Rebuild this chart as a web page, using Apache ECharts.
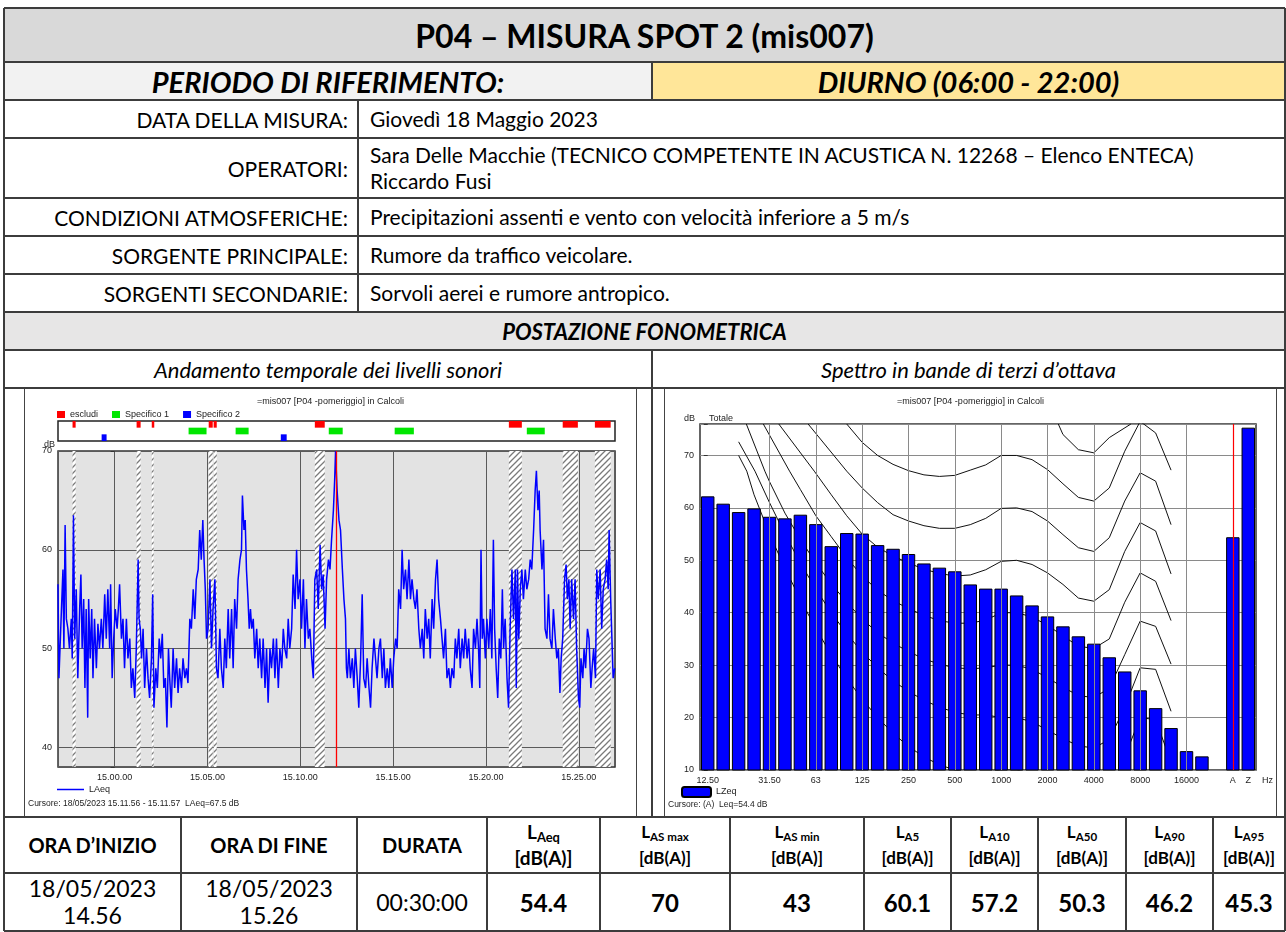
<!DOCTYPE html>
<html>
<head>
<meta charset="utf-8">
<title>P04 – MISURA SPOT 2 (mis007)</title>
<script src="https://cdn.jsdelivr.net/npm/echarts@6/dist/echarts.min.js"></script>
<style>
html,body{margin:0;padding:0;background:#fff;}
#page{position:relative;width:1286px;height:932px;overflow:hidden;font-family:Lato,'Open Sans',sans-serif;color:#000;}
#page div{box-sizing:border-box;}
.sub{font-size:0.68em;position:relative;top:0.22em;}
</style>
</head>
<body>
<div id="page"></div>
<script>
// ================= DATA =================
const reportTitle = 'P04 – MISURA SPOT 2 (mis007)';
const periodLabel = 'PERIODO DI RIFERIMENTO:';
const periodValue = 'DIURNO (06:00 - 22:00)';
const infoLabels = ['DATA DELLA MISURA:', 'OPERATORI:', 'CONDIZIONI ATMOSFERICHE:', 'SORGENTE PRINCIPALE:', 'SORGENTI SECONDARIE:'];
const infoValues = ['Giovedì 18 Maggio 2023',
  'Sara Delle Macchie (TECNICO COMPETENTE IN ACUSTICA N. 12268 – Elenco ENTECA)<br>Riccardo Fusi',
  'Precipitazioni assenti e vento con velocità inferiore a 5 m/s',
  'Rumore da traffico veicolare.',
  'Sorvoli aerei e rumore antropico.'];
const sectionTitle = 'POSTAZIONE FONOMETRICA';
const chartCaptions = ['Andamento temporale dei livelli sonori', 'Spettro in bande di terzi d’ottava'];
const statHeaders = ['ORA D’INIZIO', 'ORA DI FINE', 'DURATA',
  'L<span class="sub">Aeq</span><br>[dB(A)]', 'L<span class="sub">AS max</span><br>[dB(A)]', 'L<span class="sub">AS min</span><br>[dB(A)]',
  'L<span class="sub">A5</span><br>[dB(A)]', 'L<span class="sub">A10</span><br>[dB(A)]', 'L<span class="sub">A50</span><br>[dB(A)]',
  'L<span class="sub">A90</span><br>[dB(A)]', 'L<span class="sub">A95</span><br>[dB(A)]'];
const statValues = ['18/05/2023<br>14.56', '18/05/2023<br>15.26', '00:30:00', '54.4', '70', '43', '60.1', '57.2', '50.3', '46.2', '45.3'];

// Time history: [seconds from 15:00:00, LAeq dB]
const laeqPoints = [[-183,56.5],[-180,47],[-173,53],[-167,58],[-164,50],[-160,62.5],[-156,53],[-151,52],[-146,50],[-140,53],[-137,49],[-133,63.5],[-129,51],[-124,56],[-119,47],[-113,54],[-109,57.5],[-105,50],[-100,55],[-96,46],[-92,54],[-87,43],[-84,55],[-79,49],[-74,54],[-70,47],[-65,53],[-59,48],[-54,52.5],[-49,50],[-43,53],[-38,50],[-32,55.5],[-27,51],[-22,56],[-16,50],[-13,56.5],[-8,47],[-3,51],[2,54],[8,52],[12,54],[16,56.5],[22,51],[27,53],[32,48],[38,53],[43,49],[49,51],[54,46],[59,48],[65,45],[70,50],[76,59],[79,53],[83,52],[87,49],[92,52],[97,46],[103,50],[108,47],[113,45],[119,49],[123,55.5],[127,44],[133,48],[138,46],[144,51],[149,49],[154,51.5],[159,46],[164,47],[169,42],[174,50],[178,47],[183,44],[189,50],[194,46],[200,49],[205,45.5],[210,48],[216,46],[221,49],[227,47],[232,48],[237,46.5],[243,53],[248,52],[254,56],[259,53],[264,57],[270,58],[275,62],[280,59],[285,63],[289,59],[293,56],[297,51],[302,52],[308,57],[313,50],[318,54],[324,57],[329,48],[334,47],[340,52],[345,48],[351,46],[356,51],[361,48],[367,54],[372,49],[378,54],[383,48],[388,55],[394,52],[399,57],[405,59],[410,60],[413,65.5],[418,62],[422,63],[426,58],[431,55],[435,52],[439,54],[443,52],[448,53],[453,49],[459,52],[464,48],[469,51],[475,47],[480,51],[486,46],[491,50],[496,44.5],[502,50],[507,48],[513,51],[518,47],[523,51],[529,46],[534,50],[540,48],[545,52],[550,50],[556,49],[561,53],[566,50],[572,52],[577,57.5],[583,54],[588,60],[593,55],[599,57],[604,52],[610,57],[615,50],[620,55],[626,51],[631,52],[637,49],[642,47],[647,57],[653,58],[658,54],[664,60.5],[669,56],[674,57.5],[680,52],[685,57],[691,59],[696,58],[701,61],[707,64],[711,67],[714,70],[717,67.5],[719,66],[725,63],[730,62],[736,58],[741,55],[746,53],[749,48],[752,47],[757,50],[762,47],[768,49],[773,46],[778,50],[784,47],[789,44],[795,49],[800,55.5],[805,47],[811,46],[816,49],[822,46],[827,44],[832,48],[838,51],[843,49],[848,47],[854,50],[859,51],[865,47],[870,50],[875,46],[881,48],[886,46],[891,49],[897,46],[902,49],[908,51],[913,50],[918,56],[924,54],[929,60],[934,56],[940,58],[945,55],[951,59],[956,55],[961,57],[967,55],[972,54],[977,56],[983,52],[988,50],[994,52],[999,49],[1004,54],[1010,51],[1015,53],[1020,49],[1026,55],[1031,52],[1037,57],[1042,59],[1047,55],[1053,53],[1058,51],[1063,49],[1069,52],[1074,47],[1080,48],[1085,46],[1090,48],[1096,47],[1101,51],[1106,49],[1112,52],[1117,48],[1123,51],[1128,49],[1133,52],[1139,49],[1144,51],[1149,48],[1155,46],[1160,52],[1166,50],[1171,53],[1176,50],[1180,46],[1184,60],[1188,51],[1192,53],[1198,49],[1203,53],[1209,50],[1214,54],[1219,49],[1224,61],[1228,52],[1233,48],[1238,45],[1243,51],[1248,49],[1253,56],[1257,50],[1262,53],[1268,47],[1273,44],[1278,52],[1284,58],[1289,53],[1295,58],[1298,46],[1302,58],[1306,51],[1311,56],[1316,58],[1321,55],[1327,58],[1332,56],[1338,57],[1343,59],[1348,58],[1354,62],[1359,66],[1363,68],[1368,64],[1372,66],[1375,62],[1381,58],[1386,61],[1391,52],[1397,51],[1402,55.5],[1407,51],[1413,50],[1418,54],[1424,51],[1429,49],[1434,50],[1439,45.5],[1443,49],[1448,51],[1454,57],[1459,58.5],[1463,55],[1468,57],[1472,52],[1477,57],[1483,53],[1488,57],[1493,50],[1499,45],[1503,44],[1507,49],[1513,47],[1517,50],[1522,48],[1528,52],[1533,51],[1539,46],[1543,48],[1548,50],[1554,47],[1558,58],[1563,55],[1569,58],[1574,52],[1579,56],[1585,57],[1590,59],[1595,56],[1598,62],[1603,55],[1607,51],[1611,47],[1616,48]];
const timeStart = -183, timeEnd = 1617;     // seconds from 15:00:00
const cursorTime = 717;                     // 15.11.57
const escludiIntervals = [[-136,-126],[71,84],[120,126],[304,317],[320,330],[647,679],[1274,1316],[1448,1497],[1552,1603]];
const specifico1Intervals = [[239,297],[391,433],[692,737],[905,967],[1332,1390]];
const specifico2Intervals = [[-42,-26],[537,556]];

// Spectrum (1/3 octave)
const bandLabels = ['12.50','16','20','25','31.50','40','50','63','80','100','125','160','200','250','315','400','500','630','800','1000','1250','1600','2000','2500','3150','4000','5000','6300','8000','10000','12500','16000','20000'];
const lzeqBands = [62.2,60.8,59.2,59.9,58.3,58.0,58.7,56.9,52.7,55.2,55.1,52.9,52.2,51.2,49.4,48.6,47.9,45.4,44.6,44.6,43.3,41.4,39.3,37.4,35.5,34.1,31.5,28.8,25.2,21.8,18.0,13.6,12.6];
const totalLabels = ['A','Z'];
const totalValues = [54.4, 75.3];
const shownLabelIdx = [0,4,7,10,13,16,19,22,25,28,31,34,35];
// Reference curves: [band position, dB]
const curve80 = [[22.7,76],[23,74],[24,71.1],[25,70.5],[26,73.4],[27.4,76]];
const curve70 = [[9,76],[10,72.5],[11,70],[12,68.3],[13,67.1],[14,66.3],[15,66],[16,66.2],[17,67.2],[18,68.2],[19,70],[20,70],[21,69.2],[22,67.3],[23,64.6],[24,62],[25,61.3],[26,63.8],[27,70.8],[28,76.5],[29,74.3],[30,67.2]];
const curve60 = [[6.5,76],[9,67],[10,63.8],[11,61],[12,58.7],[13,57.5],[14,56.6],[15,56.1],[16,56.1],[17,56.8],[18,58],[19,59.9],[20,60],[21,59.3],[22,57.5],[23,54.9],[24,52.4],[25,51.7],[26,54.3],[27,61.3],[28,66.7],[29,65.1],[30,56.8]];
const curve50 = [[4.6,76],[6.9,67],[8,62.5],[9,58.5],[10,55],[11,52.5],[12,50.8],[13,49.5],[14,48.3],[15,47.5],[16,47],[17,47.2],[18,48.2],[19,49.8],[20,50],[21,49.2],[22,47.6],[23,45.4],[24,42.8],[25,42.2],[26,44.4],[27,51.7],[28,57.2],[29,55.6],[30,47.4]];
const curve40 = [[3.6,76],[5.3,67],[6,63.5],[7,58.5],[8,54.5],[9,50.5],[10,47],[11,44.3],[12,42.3],[13,40.8],[14,39.5],[15,38.5],[16,38],[17,38],[18,38.6],[19,40],[20,40],[21,39.2],[22,37.6],[23,35.6],[24,33.6],[25,33.2],[26,35],[27,42],[28,47.6],[29,46],[30,38.5]];
const curve30 = [[2.5,76],[3.7,67],[4,65],[5,59],[6,54],[7,49.5],[8,45.5],[9,42],[10,38.8],[11,36.2],[12,34.2],[13,32.6],[14,31.2],[15,30.2],[16,29.5],[17,29.3],[18,29.5],[19,30],[20,30],[21,29.2],[22,27.6],[23,25.8],[24,24.2],[25,23.8],[26,25.6],[27,32],[28,38.4],[29,37.4],[30,30.2]];
const curve20 = [[2,72.6],[3.06,67],[4,61],[5,55],[6,49.5],[7,44.5],[8,40],[9,36],[10,32.5],[11,29.5],[12,27],[13,25],[14,23.3],[15,22],[16,21],[17,20.5],[18,20.5],[19,20],[20,20],[21,19.2],[22,17.6],[23,16],[24,14.6],[25,14.2],[26,15.8],[27,22],[28,29.5],[29,29.2],[30,21.2]];
const curve10 = [[2,70],[2.53,67],[3,62.5],[4,55],[5,48.5],[6,42.5],[7,37],[8,32],[9,27.5],[10,23.5],[11,20],[12,17],[13,14.5],[14,12.5],[15,11],[16,10],[17,9.5],[18,9.6],[19,10],[20,10],[21,9.3],[22,7.6],[23,6],[24,4.6],[25,4.3],[26,6],[27,12.5],[28,20],[29,19.6],[30,11.5]];

// ================= LAYOUT (table) =================
const page = document.getElementById('page');
const LINE = '#3c3c3c';
function add(css, html){ const d = document.createElement('div'); d.style.cssText = 'position:absolute;' + css; if (html !== undefined) d.innerHTML = html; page.appendChild(d); return d; }
function rect(x,y,w,h,bg){ return add(`left:${x}px;top:${y}px;width:${w}px;height:${h}px;background:${bg};`); }
function txt(x,y,w,h,html,css,justify){
  const ta = justify === 'flex-end' ? 'right' : (justify === 'flex-start' ? 'left' : 'center');
  return add(`left:${x}px;top:${y}px;width:${w}px;height:${h}px;display:flex;align-items:center;justify-content:${justify || 'center'};`,
    `<div style="text-align:${ta};white-space:nowrap;${css}">${html}</div>`);
}
function hl(x1,x2,y,t){ rect(x1, y - t/2, x2 - x1, t, LINE); }
function vl(x,y1,y2,t){ rect(x - t/2, y1, t, y2 - y1, LINE); }

const X0 = 4, X1 = 1285, XL = 358, XM = 652;
const Y = [8, 62, 100, 138, 198, 236, 274, 312, 350, 388, 817, 873, 931];
const statCols = [4, 181, 357, 487, 600, 730, 864, 951, 1038, 1126, 1213, 1285];

// backgrounds
rect(X0, Y[0], X1 - X0, Y[1] - Y[0], '#d9d9d9');
rect(X0, Y[1], XM - X0, Y[2] - Y[1], '#f2f2f2');
rect(XM, Y[1], X1 - XM, Y[2] - Y[1], '#ffe699');
rect(X0, Y[7], X1 - X0, Y[8] - Y[7], '#e7e6e6');

// chart containers
const cL = add('left:24px;top:388px;width:613px;height:429px;border:1px solid #444;background:#fff;');
const cR = add('left:664px;top:388px;width:613px;height:429px;border:1px solid #444;background:#fff;');

// lines
Y.forEach((y, i) => hl(X0, X1, y, (i === 0 || i === Y.length - 1) ? 2 : 1.5));
vl(X0, Y[0], Y[12], 2); vl(X1, Y[0], Y[12], 2);
vl(XM, Y[1], Y[2], 1.5);
vl(XL, Y[2], Y[7], 1.5);
vl(XM, Y[8], Y[10], 1.5);
statCols.slice(1, -1).forEach(x => vl(x, Y[10], Y[12], 1.5));

// texts
txt(X0, Y[0], X1 - X0, Y[1] - Y[0], reportTitle, 'font-weight:700;font-size:32px;');
txt(X0, Y[1], XM - X0, Y[2] - Y[1], periodLabel, 'font-weight:700;font-style:italic;font-size:29px;');
txt(XM, Y[1], X1 - XM, Y[2] - Y[1], periodValue, 'font-weight:700;font-style:italic;font-size:29px;');
infoLabels.forEach((s, i) => {
  txt(X0, Y[2 + i], XL - X0 - 10, Y[3 + i] - Y[2 + i], s, 'font-size:21px;', 'flex-end');
  txt(XL + 12, Y[2 + i], X1 - XL - 14, Y[3 + i] - Y[2 + i], infoValues[i], 'font-size:21px;line-height:26px;', 'flex-start');
});
txt(X0, Y[7], X1 - X0, Y[8] - Y[7], sectionTitle, 'font-weight:700;font-style:italic;font-size:22px;');
txt(X0, Y[8], XM - X0, Y[9] - Y[8], chartCaptions[0], 'font-style:italic;font-size:22px;');
txt(XM, Y[8], X1 - XM, Y[9] - Y[8], chartCaptions[1], 'font-style:italic;font-size:22px;');
statHeaders.forEach((s, i) => {
  const fs = i < 3 ? 20 : (i === 3 ? 19 : 17);
  txt(statCols[i], Y[10], statCols[i + 1] - statCols[i], Y[11] - Y[10], s,
    `font-weight:700;font-size:${fs}px;line-height:${i < 3 ? 24 : 24}px;`);
  const bold = i >= 3;
  txt(statCols[i], Y[11], statCols[i + 1] - statCols[i], Y[12] - Y[11], statValues[i],
    `font-weight:${bold ? 700 : 400};font-size:${bold ? 24 : 23}px;line-height:27px;`);
});

// ================= CHARTS =================
const chartFont = "'Liberation Sans', Arial, sans-serif";
const pad2 = n => String(n).padStart(2, '0');
function tFmt(v){ const s = 54000 + v; return Math.floor(s/3600) + '.' + pad2(Math.floor(s % 3600 / 60)) + '.' + pad2(s % 60); }
function hatchPattern(){
  const c = document.createElement('canvas'); c.width = 6; c.height = 6;
  const g = c.getContext('2d'); g.fillStyle = '#ffffff'; g.fillRect(0, 0, 6, 6);
  g.strokeStyle = '#7a7a7a'; g.lineWidth = 1.3; g.beginPath();
  g.moveTo(-1, 7); g.lineTo(7, -1); g.moveTo(-1, 1); g.lineTo(1, -1); g.moveTo(5, 7); g.lineTo(7, 5); g.stroke();
  return c;
}
function stripItem(color){
  return function(params, api){
    const r = api.value(2);
    const a = api.coord([api.value(0), r]);
    const b = api.coord([api.value(1), r]);
    const h = api.size([0, 1])[1];
    return { type: 'rect', shape: { x: a[0], y: a[1] - h/2, width: Math.max(b[0] - a[0], 2.5), height: h }, style: { fill: color } };
  };
}

const chartL = echarts.init(cL, null, { renderer: 'canvas' });
chartL.setOption({
  animation: false,
  textStyle: { fontFamily: chartFont },
  title: { text: '=mis007 [P04 -pomeriggio] in Calcoli', left: 'center', top: 3, textStyle: { fontSize: 9, fontWeight: 'normal', color: '#222', fontFamily: chartFont } },
  legend: [
    { data: ['escludi', 'Specifico 1', 'Specifico 2'], left: 32, top: 21, padding: 0, icon: 'rect', itemWidth: 8, itemHeight: 7, itemGap: 14, textStyle: { fontSize: 9, color: '#222' } },
    { data: ['LAeq'], left: 32, top: 396, padding: 0, icon: 'rect', itemWidth: 27, itemHeight: 1.5, textStyle: { fontSize: 9, color: '#222' } }
  ],
  grid: [
    { left: 33, top: 62, width: 557, height: 316, show: true, backgroundColor: '#e3e3e3', borderColor: '#333', borderWidth: 1.5 },
    { left: 33, top: 32, width: 557, height: 20, show: true, backgroundColor: '#fff', borderColor: '#222', borderWidth: 1.5 }
  ],
  xAxis: [
    { type: 'value', gridIndex: 0, min: timeStart, max: timeEnd, splitNumber: 6,
      axisLine: { show: false }, axisTick: { show: false },
      axisLabel: { formatter: v => (v % 300 === 0 ? tFmt(v) : ''), fontSize: 9, color: '#222', margin: 6 },
      splitLine: { lineStyle: { color: '#5a5a5a', width: 1 } } },
    { type: 'value', gridIndex: 1, min: timeStart, max: timeEnd, show: false }
  ],
  yAxis: [
    { type: 'value', gridIndex: 0, min: 38, max: 70, splitNumber: 3,
      axisLine: { show: false }, axisTick: { show: true, length: 4, lineStyle: { color: '#333' } },
      axisLabel: { formatter: v => (v % 10 === 0 ? v : ''), fontSize: 9, color: '#222', margin: 6 },
      splitLine: { lineStyle: { color: '#5a5a5a', width: 1 } } },
    { type: 'category', gridIndex: 1, data: ['escludi', 'Specifico 1', 'Specifico 2'], inverse: true, show: false }
  ],
  graphic: [
    { type: 'text', left: 19, top: 51, style: { text: 'dB', fontSize: 9, fill: '#222', fontFamily: chartFont } },
    { type: 'text', left: 3, top: 410, style: { text: 'Cursore: 18/05/2023 15.11.56 - 15.11.57  LAeq=67.5 dB', fontSize: 8.5, fill: '#222', fontFamily: chartFont } }
  ],
  series: [
    { type: 'line', name: 'LAeq', xAxisIndex: 0, yAxisIndex: 0, data: laeqPoints, symbol: 'none', color: '#0000ff',
      lineStyle: { width: 1.5, color: '#0000ff' }, z: 3,
      markArea: { silent: true, itemStyle: { color: { image: hatchPattern(), repeat: 'repeat' } },
        data: escludiIntervals.map(([a, b]) => [{ xAxis: a }, { xAxis: b }]) },
      markLine: { silent: true, symbol: 'none', label: { show: false }, lineStyle: { color: '#ff0000', width: 1.3, type: 'solid' },
        data: [{ xAxis: cursorTime }] } },
    { type: 'custom', name: 'escludi', xAxisIndex: 1, yAxisIndex: 1, color: '#ff0000', renderItem: stripItem('#ff0000'),
      encode: { x: [0, 1], y: 2 }, data: escludiIntervals.map(([a, b]) => [a, b, 0]) },
    { type: 'custom', name: 'Specifico 1', xAxisIndex: 1, yAxisIndex: 1, color: '#00e600', renderItem: stripItem('#00e600'),
      encode: { x: [0, 1], y: 2 }, data: specifico1Intervals.map(([a, b]) => [a, b, 1]) },
    { type: 'custom', name: 'Specifico 2', xAxisIndex: 1, yAxisIndex: 1, color: '#0000ff', renderItem: stripItem('#0000ff'),
      encode: { x: [0, 1], y: 2 }, data: specifico2Intervals.map(([a, b]) => [a, b, 2]) }
  ]
});

const categories = bandLabels.concat([' '], totalLabels);
const barData = lzeqBands.concat([null], totalValues);
const curves = [curve80, curve70, curve60, curve50, curve40, curve30, curve20, curve10];
const gridIdx = shownLabelIdx.filter(i => i > 0 && i < 33);

const chartR = echarts.init(cR, null, { renderer: 'canvas' });
chartR.setOption({
  animation: false,
  textStyle: { fontFamily: chartFont },
  title: { text: '=mis007 [P04 -pomeriggio] in Calcoli', left: 'center', top: 3, textStyle: { fontSize: 9, fontWeight: 'normal', color: '#222', fontFamily: chartFont } },
  legend: { data: ['LZeq'], left: 16, top: 397, padding: 0, itemWidth: 29, itemHeight: 10, textStyle: { fontSize: 9, color: '#222' } },
  grid: { left: 35, top: 35, width: 559, height: 346, show: true, backgroundColor: '#fff', borderColor: '#333', borderWidth: 1.5 },
  xAxis: [
    { type: 'category', data: categories, axisTick: { show: false }, axisLine: { show: false },
      axisLabel: { interval: i => shownLabelIdx.includes(i), fontSize: 9, color: '#222', margin: 6 },
      splitLine: { show: false },
      name: 'Hz', nameLocation: 'end', nameGap: 6, nameTextStyle: { fontSize: 9, color: '#222', verticalAlign: 'top', padding: [6, 0, 0, 0] } },
    { type: 'value', min: -0.5, max: 35.5, show: false }
  ],
  yAxis: { type: 'value', min: 10, max: 76, interval: 10,
    axisLine: { show: false }, axisTick: { show: true, length: 4, lineStyle: { color: '#333' } },
    axisLabel: { formatter: v => (v % 10 === 0 ? v : ''), fontSize: 9, color: '#222', margin: 6 },
    splitLine: { lineStyle: { color: '#8a8a8a', width: 1 } } },
  graphic: [
    { type: 'text', left: 19, top: 25, style: { text: 'dB', fontSize: 9, fill: '#222', fontFamily: chartFont } },
    { type: 'text', left: 44, top: 25, style: { text: 'Totale', fontSize: 9, fill: '#222', fontFamily: chartFont } },
    { type: 'text', left: 3, top: 411, style: { text: 'Cursore: (A)  Leq=54.4 dB', fontSize: 8.5, fill: '#222', fontFamily: chartFont } }
  ],
  series: curves.map((c, k) => ({
    type: 'line', xAxisIndex: 1, data: c, symbol: 'none', silent: true, z: 2,
    lineStyle: { color: '#111', width: 1 },
    markLine: k === 0 ? { silent: true, symbol: 'none', label: { show: false }, lineStyle: { color: '#8a8a8a', width: 1, type: 'solid' },
      data: gridIdx.map(i => ({ xAxis: i })) } : undefined
  })).concat([{
    type: 'bar', name: 'LZeq', xAxisIndex: 0, data: barData, barCategoryGap: '13%', z: 3, color: '#0000ff',
    itemStyle: { color: '#0000ff', borderColor: '#000', borderWidth: 1 },
    markLine: { silent: true, symbol: 'none', label: { show: false }, lineStyle: { color: '#ff0000', width: 1.2, type: 'solid' },
      data: [{ xAxis: 'A' }] }
  }])
});
</script>
</body>
</html>
